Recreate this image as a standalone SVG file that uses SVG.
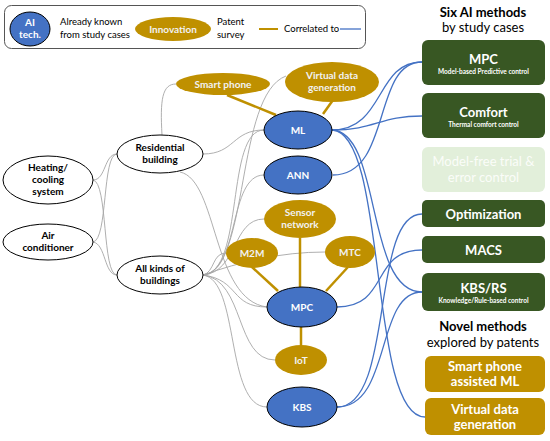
<svg xmlns="http://www.w3.org/2000/svg" width="550" height="441" viewBox="0 0 550 441">
<style>
text{font-family:Lato,"Liberation Sans",sans-serif;text-anchor:middle}
.w{fill:#fff;stroke:#000;stroke-width:1}
.b{fill:#4472c4;stroke:#000;stroke-width:1}
.g{fill:#bf9000}
.lb{fill:#000;font-weight:bold;font-size:10px}
.lw{fill:#fff;font-weight:bold;font-size:10px}
.lg{fill:#f2f2f2;font-size:10px;font-weight:bold}
.gray path{fill:none;stroke:#a6a6a6;stroke-width:0.9}
.blue path{fill:none;stroke:#4472c4;stroke-width:1.3}
.gold line{stroke:#bf9000;stroke-width:2.5}
.box{fill:#385723}
.gbox{fill:#bf9000}
.bt{fill:#fff;font-weight:bold;font-size:13px}
.bs{fill:#fff;font-weight:bold;font-size:6.5px}
.t{fill:#000;font-size:9.5px}
.h{fill:#000;font-size:13px}
</style>

<g id="legend">
<rect x="4.5" y="5.5" width="361" height="43" rx="7" fill="#fff" stroke="#555" stroke-width="1"/>
<ellipse cx="30" cy="29" rx="20" ry="17" class="b"/>
<text x="30" y="26" class="lw">AI</text>
<text x="30" y="38" class="lw">tech.</text>
<text x="60" y="25" class="t" style="text-anchor:start">Already known</text>
<text x="60" y="38" class="t" style="text-anchor:start">from study cases</text>
<ellipse cx="173" cy="29" rx="38" ry="12" class="g"/>
<text x="173" y="32.5" class="lg">Innovation</text>
<text x="217" y="25" class="t" style="text-anchor:start">Patent</text>
<text x="217" y="38" class="t" style="text-anchor:start">survey</text>
<line x1="259" y1="29" x2="278" y2="29" stroke="#bf9000" stroke-width="2"/>
<text x="284" y="32" class="t" style="text-anchor:start">Correlated to</text>
<line x1="340" y1="29" x2="361" y2="29" stroke="#4472c4" stroke-width="1.3"/>
</g>

<g id="connectors">
<g class="gray">
<path d="M93,180 C106,180 104,154 117,154"/>
<path d="M93,180 C108,182 102,275 117,275"/>
<path d="M93,242 C108,240 102,154 117,154"/>
<path d="M93,242 C106,244 104,275 117,275"/>
<path d="M203,154 C235,154 232,130 264,130"/>
<path d="M162,135 C160,100 162,84 176,84"/>
<path d="M180,172 C218,180 212,300 267,307"/>
<path d="M203,275 C250,270 235,95 286,76"/>
<path d="M203,275 C245,272 225,130 264,130"/>
<path d="M203,275 C240,272 228,175 264,175"/>
<path d="M203,275 C238,272 232,219 264,219"/>
<path d="M203,275 C215,272 212,253 226,253"/>
<path d="M203,275 C240,262 280,252 325,252"/>
<path d="M203,275 C240,280 230,307 267,307"/>
<path d="M203,275 C245,280 235,360 275,360"/>
<path d="M203,275 C240,280 225,407 267,407"/>
</g>
<g class="blue">
<path d="M332,130 C385,130 375,62 422,62"/>
<path d="M332,130 C375,130 380,116 422,116"/>
<path d="M333,175 C392,175 372,62 422,62"/>
<path d="M332,130 C382,132 365,292 422,292"/>
<path d="M332,130 C388,132 368,417 425,417"/>
<path d="M337,307 C390,307 370,250 422,250"/>
<path d="M337,407 C395,407 370,214 422,214"/>
<path d="M337,407 C392,407 375,292 422,292"/>
</g>
<g class="gold">
<line x1="227" y1="95" x2="276" y2="115"/>
<line x1="333" y1="100" x2="323" y2="114"/>
<line x1="300" y1="238" x2="300" y2="287"/>
<line x1="252" y1="267" x2="278" y2="291"/>
<line x1="348" y1="267" x2="326" y2="291"/>
<line x1="301" y1="327" x2="301" y2="345"/>
</g>
</g>

<g id="heating"><ellipse cx="48" cy="180" rx="45" ry="24" class="w"/>
<text x="48" y="171" class="lb">Heating/</text><text x="48" y="183" class="lb">cooling</text><text x="48" y="195" class="lb">system</text></g>
<g id="aircon"><ellipse cx="48" cy="242" rx="45" ry="18" class="w"/>
<text x="48" y="239" class="lb">Air</text><text x="48" y="251" class="lb">conditioner</text></g>
<g id="residential"><ellipse cx="160" cy="154" rx="43" ry="19" class="w"/>
<text x="160" y="151" class="lb">Residential</text><text x="160" y="163" class="lb">building</text></g>
<g id="allkinds"><ellipse cx="160" cy="275" rx="43" ry="19" class="w"/>
<text x="160" y="272" class="lb">All kinds of</text><text x="160" y="284" class="lb">buildings</text></g>

<g id="smartphone"><ellipse cx="223" cy="84" rx="47" ry="11" class="g"/>
<text x="223" y="87.5" class="lg">Smart phone</text></g>
<g id="virtualdata"><ellipse cx="332" cy="82" rx="47" ry="20" class="g"/>
<text x="332" y="79" class="lg">Virtual data</text><text x="332" y="91" class="lg">generation</text></g>
<g id="ml"><ellipse cx="298" cy="130" rx="34" ry="19" class="b"/>
<text x="298" y="133.5" class="lw">ML</text></g>
<g id="ann"><ellipse cx="298" cy="175" rx="34" ry="19" class="b"/>
<text x="298" y="178.5" class="lw">ANN</text></g>
<g id="sensor"><ellipse cx="300" cy="219" rx="36" ry="19" class="g"/>
<text x="300" y="216" class="lg">Sensor</text><text x="300" y="228" class="lg">network</text></g>
<g id="m2m"><ellipse cx="252" cy="253" rx="26" ry="15" class="g"/>
<text x="252" y="256.5" class="lg">M2M</text></g>
<g id="mtc"><ellipse cx="350" cy="252" rx="25" ry="16" class="g"/>
<text x="350" y="255.5" class="lg">MTC</text></g>
<g id="mpc"><ellipse cx="302" cy="307" rx="35" ry="20" class="b"/>
<text x="302" y="310.5" class="lw">MPC</text></g>
<g id="iot"><ellipse cx="301" cy="360" rx="26" ry="15" class="g"/>
<text x="301" y="363.5" class="lg">IoT</text></g>
<g id="kbs"><ellipse cx="302" cy="407" rx="35" ry="20" class="b"/>
<text x="302" y="410.5" class="lw">KBS</text></g>

<g id="titles">
<text x="483" y="17" class="h" style="font-weight:bold">Six AI methods</text>
<text x="483" y="32" class="h">by study cases</text>
<text x="483" y="331" class="h" style="font-weight:bold">Novel methods</text>
<text x="483" y="347" class="h">explored by patents</text>
</g>

<g id="box-mpc"><rect x="422" y="40" width="123" height="45" rx="6" class="box"/>
<text x="483.5" y="64" class="bt">MPC</text><text x="483.5" y="74" class="bs">Model-based Predictive control</text></g>
<g id="box-comfort"><rect x="422" y="93" width="123" height="45" rx="6" class="box"/>
<text x="483.5" y="117" class="bt">Comfort</text><text x="483.5" y="127" class="bs">Thermal comfort control</text></g>
<g id="box-modelfree"><rect x="422" y="147" width="123" height="45" rx="6" fill="#e2efda"/>
<text x="483.5" y="166" class="bt" style="font-weight:normal;fill:#fbfdf9">Model-free trial &amp;</text>
<text x="483.5" y="182" class="bt" style="font-weight:normal;fill:#fbfdf9">error control</text></g>
<g id="box-optimization"><rect x="422" y="200" width="123" height="27" rx="5" class="box"/>
<text x="483.5" y="218.5" class="bt">Optimization</text></g>
<g id="box-macs"><rect x="422" y="236" width="123" height="27" rx="5" class="box"/>
<text x="483.5" y="254.5" class="bt">MACS</text></g>
<g id="box-kbsrs"><rect x="422" y="273" width="123" height="38" rx="6" class="box"/>
<text x="483.5" y="293" class="bt">KBS/RS</text><text x="483.5" y="303" class="bs">Knowledge/Rule-based control</text></g>
<g id="box-smartml"><rect x="425" y="356" width="120" height="36" rx="6" class="gbox"/>
<text x="485" y="371" class="bt">Smart phone</text><text x="485" y="386" class="bt">assisted ML</text></g>
<g id="box-virtual"><rect x="425" y="398" width="120" height="37" rx="6" class="gbox"/>
<text x="485" y="414" class="bt">Virtual data</text><text x="485" y="429" class="bt">generation</text></g>
</svg>
